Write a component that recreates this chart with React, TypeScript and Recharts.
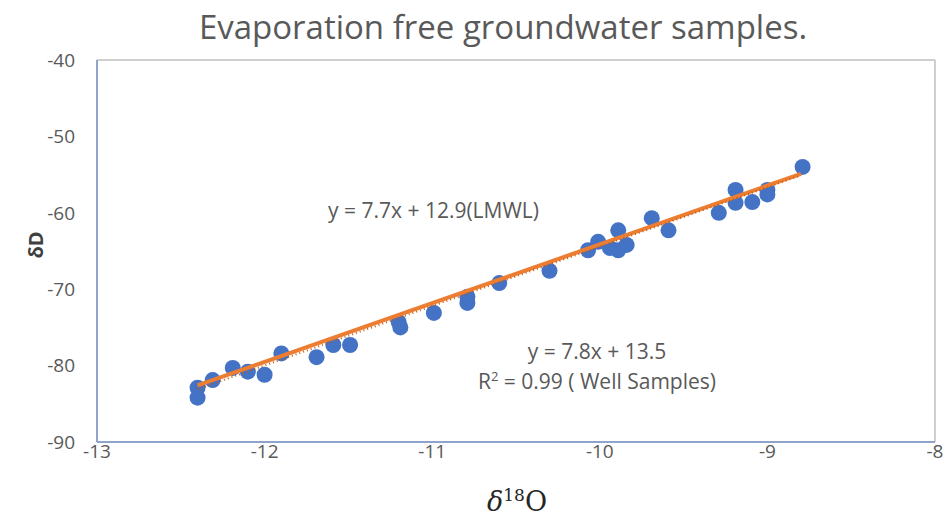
import React from "react";
import {
  ScatterChart, Scatter, XAxis, YAxis, ReferenceLine,
} from "recharts";

// Well samples (δ18O, δD)
const sampleO18 = [
  -12.4, -12.4, -12.31, -12.19, -12.1, -12.0, -11.9, -11.69, -11.59, -11.49,
  -11.2, -11.19, -10.99, -10.79, -10.79, -10.6, -10.3, -10.07, -10.01, -9.94,
  -9.89, -9.89, -9.84, -9.69, -9.59, -9.29, -9.19, -9.19, -9.09, -9.0, -9.0, -8.79,
];
const sampleD = [
  -82.9, -84.2, -81.9, -80.3, -80.8, -81.2, -78.4, -78.9, -77.3, -77.3,
  -74.3, -75.0, -73.1, -71.0, -71.8, -69.2, -67.6, -64.9, -63.8, -64.6,
  -62.3, -64.9, -64.2, -60.7, -62.3, -60.0, -57.0, -58.7, -58.6, -57.0, -57.6, -54.0,
];

// trend line end points
const wellTrendX = [-12.4, -8.8];
const wellTrendY = [-83.1, -55.1];
const lmwlX = [-12.4, -8.8];
const lmwlY = [-82.6, -54.9];

const xTicks = [-13, -12, -11, -10, -9, -8];
const yTicks = [-90, -80, -70, -60, -50, -40];

const samples = sampleO18.map((x, i) => ({ x, y: sampleD[i] }));
const wellTrend = wellTrendX.map((x, i) => ({ x, y: wellTrendY[i] }));
const lmwl = lmwlX.map((x, i) => ({ x, y: lmwlY[i] }));

const GREY = "#595959";
const FONT = "'Open Sans', sans-serif";

const NoShape = () => null;

export default function App() {
  return (
    <div style={{ position: "absolute", left: 0, top: 0, width: 948, height: 520, background: "#fff", fontFamily: FONT }}>
      <div style={{
        position: "absolute", left: 0, width: 1006, top: 4, textAlign: "center",
        fontSize: 33, color: GREY, whiteSpace: "nowrap",
      }}>
        Evaporation free groundwater samples.
      </div>

      <ScatterChart
        width={948}
        height={520}
        margin={{ top: 60, right: 13, bottom: 48, left: 0 }}
      >
        <XAxis
          type="number"
          dataKey="x"
          domain={[-13, -8]}
          ticks={xTicks}
          allowDataOverflow
          height={30}
          tickSize={0}
          tickMargin={3}
          tickLine={false}
          axisLine={{ stroke: "#8fa3cb", strokeWidth: 2 }}
          tick={{ fill: GREY, fontSize: 19, fontFamily: FONT }}
        />
        <YAxis
          type="number"
          dataKey="y"
          domain={[-90, -40]}
          ticks={yTicks}
          allowDataOverflow
          width={97}
          tickSize={0}
          tickMargin={22}
          tickLine={false}
          axisLine={{ stroke: "#8fa3cb", strokeWidth: 2 }}
          tick={{ fill: GREY, fontSize: 19, fontFamily: FONT }}
        />
        <ReferenceLine y={-40} stroke="#cfcfcf" strokeWidth={2} />
        <ReferenceLine x={-8} stroke="#cfcfcf" strokeWidth={2} />

        <Scatter
          data={samples}
          fill="#4472c4"
          shape={(p: any) => <circle cx={p.cx} cy={p.cy} r={8} fill="#4472c4" />}
          isAnimationActive={false}
        />
        <Scatter
          data={lmwl}
          line={{ stroke: "#ed7d31", strokeWidth: 4 }}
          shape={NoShape}
          isAnimationActive={false}
        />
        <Scatter
          data={wellTrend}
          line={{ stroke: "#c55a11", strokeWidth: 2, strokeDasharray: "1 3" }}
          shape={NoShape}
          isAnimationActive={false}
        />
      </ScatterChart>

      <div style={{ position: "absolute", left: 328, top: 196, fontSize: 21, color: GREY, whiteSpace: "nowrap", lineHeight: "28px" }}>
        y = 7.7x + 12.9(LMWL)
      </div>
      <div style={{ position: "absolute", left: 440, width: 314, top: 336, fontSize: 21, color: GREY, textAlign: "center", lineHeight: "30px", whiteSpace: "nowrap" }}>
        <div>y = 7.8x + 13.5</div>
        <div>R<sup style={{ fontSize: 13, lineHeight: 0 }}>2</sup> = 0.99 ( Well Samples)</div>
      </div>

      <div style={{
        position: "absolute", left: 35, top: 245, transform: "translate(-50%, -50%) rotate(-90deg)",
        fontSize: 20, fontWeight: 700, color: "#404040", whiteSpace: "nowrap",
      }}>
        δD
      </div>
      <div style={{
        position: "absolute", left: 487, top: 486, fontSize: 27, color: "#262626",
        fontFamily: "'DejaVu Serif', serif", whiteSpace: "nowrap",
      }}>
        <i>δ</i><sup style={{ fontSize: 17, verticalAlign: "10px", lineHeight: 0 }}>18</sup>O
      </div>
    </div>
  );
}
